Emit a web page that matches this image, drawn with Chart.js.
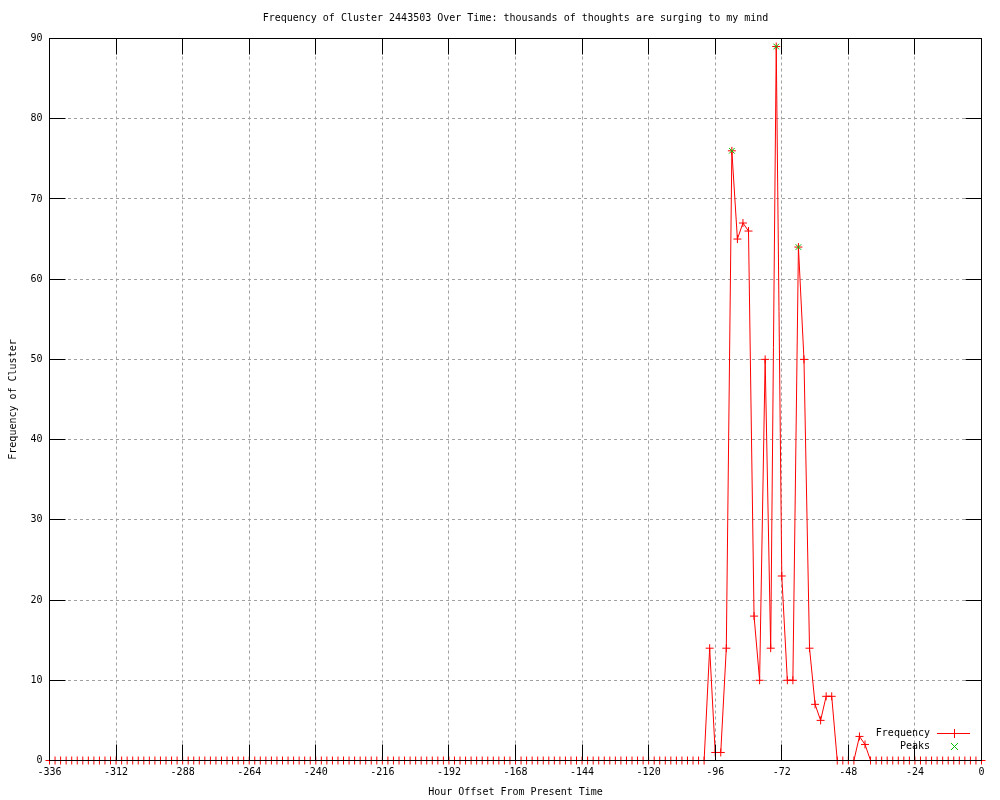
<!DOCTYPE html>
<html>
<head>
<meta charset="utf-8">
<script src="https://cdn.jsdelivr.net/npm/chart.js@4"></script>
<style>
  body { margin: 0; background: #fff; }
  canvas { display: block; }
</style>
</head>
<body>
<canvas id="freqChart" width="1000" height="800"></canvas>
<script>
// hour offsets (every 2 hours) and cluster frequency
const hours = [
  -336, -334, -332, -330, -328, -326, -324, -322, -320, -318, -316, -314,
  -312, -310, -308, -306, -304, -302, -300, -298, -296, -294, -292, -290,
  -288, -286, -284, -282, -280, -278, -276, -274, -272, -270, -268, -266,
  -264, -262, -260, -258, -256, -254, -252, -250, -248, -246, -244, -242,
  -240, -238, -236, -234, -232, -230, -228, -226, -224, -222, -220, -218,
  -216, -214, -212, -210, -208, -206, -204, -202, -200, -198, -196, -194,
  -192, -190, -188, -186, -184, -182, -180, -178, -176, -174, -172, -170,
  -168, -166, -164, -162, -160, -158, -156, -154, -152, -150, -148, -146,
  -144, -142, -140, -138, -136, -134, -132, -130, -128, -126, -124, -122,
  -120, -118, -116, -114, -112, -110, -108, -106, -104, -102, -100, -98,
  -96, -94, -92, -90, -88, -86, -84, -82, -80, -78, -76, -74,
  -72, -70, -68, -66, -64, -62, -60, -58, -56, -54, -52, -50,
  -48, -46, -44, -42, -40, -38, -36, -34, -32, -30, -28, -26,
  -24, -22, -20, -18, -16, -14, -12, -10, -8, -6, -4, -2,
  0
];
const frequency = [
  0, 0, 0, 0, 0, 0, 0, 0, 0, 0, 0, 0,
  0, 0, 0, 0, 0, 0, 0, 0, 0, 0, 0, 0,
  0, 0, 0, 0, 0, 0, 0, 0, 0, 0, 0, 0,
  0, 0, 0, 0, 0, 0, 0, 0, 0, 0, 0, 0,
  0, 0, 0, 0, 0, 0, 0, 0, 0, 0, 0, 0,
  0, 0, 0, 0, 0, 0, 0, 0, 0, 0, 0, 0,
  0, 0, 0, 0, 0, 0, 0, 0, 0, 0, 0, 0,
  0, 0, 0, 0, 0, 0, 0, 0, 0, 0, 0, 0,
  0, 0, 0, 0, 0, 0, 0, 0, 0, 0, 0, 0,
  0, 0, 0, 0, 0, 0, 0, 0, 0, 0, 0, 14,
  1, 1, 14, 76, 65, 67, 66, 18, 10, 50, 14, 89,
  23, 10, 10, 64, 50, 14, 7, 5, 8, 8, 0, 0,
  0, 0, 3, 2, 0, 0, 0, 0, 0, 0, 0, 0,
  0, 0, 0, 0, 0, 0, 0, 0, 0, 0, 0, 0,
  0
];
const peakHours = [-90, -74, -66];
const peakValues = [76, 89, 64];

const xTicks = [-336, -312, -288, -264, -240, -216, -192, -168, -144, -120, -96, -72, -48, -24, 0];
const yTicks = [0, 10, 20, 30, 40, 50, 60, 70, 80, 90];

const FONT = 'DejaVu Sans Mono';
const RED = '#ff0000';
const GREEN = '#00c000';

// gnuplot style frame: border box + inward ticks on all four sides
const frame = {
    id: 'frame',
    afterDraw(chart) {
        const { ctx, chartArea: a, scales } = chart;
        const al = v => Math.round(v - 0.5) + 0.5;
        ctx.save();
        ctx.strokeStyle = '#000';
        ctx.lineWidth = 1;
        ctx.beginPath();
        xTicks.forEach(t => {
            const px = al(scales.x.getPixelForValue(t));
            ctx.moveTo(px, a.bottom); ctx.lineTo(px, a.bottom - 16);
            ctx.moveTo(px, a.top); ctx.lineTo(px, a.top + 16);
        });
        yTicks.forEach(t => {
            const py = al(scales.y.getPixelForValue(t));
            ctx.moveTo(a.left, py); ctx.lineTo(a.left + 16, py);
            ctx.moveTo(a.right, py); ctx.lineTo(a.right - 16, py);
        });
        ctx.stroke();
        ctx.strokeRect(a.left, a.top, a.right - a.left, a.bottom - a.top);
        ctx.restore();
    }
};

// key in the lower right corner, text first then sample
const key = {
    id: 'key',
    afterDraw(chart) {
        const ctx = chart.ctx;
        ctx.save();
        ctx.font = '10px "' + FONT + '"';
        ctx.textAlign = 'right';
        ctx.textBaseline = 'middle';
        ctx.fillStyle = '#000';
        ctx.fillText('Frequency', 930, 733);
        ctx.fillText('Peaks', 930, 746);

        ctx.lineWidth = 1;
        ctx.strokeStyle = RED;
        ctx.beginPath();
        ctx.moveTo(937, 733.5); ctx.lineTo(970, 733.5);
        ctx.moveTo(954.5, 729); ctx.lineTo(954.5, 738);
        ctx.stroke();

        ctx.strokeStyle = GREEN;
        ctx.beginPath();
        ctx.moveTo(951, 743); ctx.lineTo(958, 750);
        ctx.moveTo(958, 743); ctx.lineTo(951, 750);
        ctx.stroke();
        ctx.restore();
    }
};

const chart = new Chart(document.getElementById('freqChart'), {
    type: 'line',
    data: {
        datasets: [
            {
                label: 'Frequency',
                data: hours.map((h, i) => ({ x: h, y: frequency[i] })),
                borderColor: RED,
                borderWidth: 1,
                tension: 0,
                pointStyle: 'cross',
                pointRadius: 4,
                pointBorderWidth: 1,
                pointBorderColor: RED,
                clip: 6,
                order: 1
            },
            {
                label: 'Peaks',
                data: peakHours.map((h, i) => ({ x: h, y: peakValues[i] })),
                showLine: false,
                pointStyle: 'crossRot',
                pointRadius: 4,
                pointBorderWidth: 1,
                pointBorderColor: GREEN,
                clip: 6,
                order: 0
            }
        ]
    },
    options: {
        responsive: false,
        animation: false,
        events: [],
        layout: { padding: { left: 0, right: 18.5, top: 0, bottom: 0 } },
        plugins: {
            legend: { display: false },
            tooltip: { enabled: false },
            title: {
                display: true,
                fullSize: false,   // centre over the plot area like gnuplot
                text: 'Frequency of Cluster 2443503 Over Time: thousands of thoughts are surging to my mind',
                color: '#000',
                font: { family: FONT, size: 10, weight: 'normal', lineHeight: 1.2 },
                padding: { top: 12, bottom: 14.5 }
            }
        },
        scales: {
            x: {
                type: 'linear',
                min: -336,
                max: 0,
                afterFit: s => { s.height = 39.5; },
                afterBuildTicks: s => { s.ticks = xTicks.map(v => ({ value: v })); },
                ticks: {
                    color: '#000',
                    font: { family: FONT, size: 10 },
                    padding: 6,
                    maxRotation: 0,
                    autoSkip: false
                },
                grid: { color: '#a0a0a0', drawTicks: false, borderDash: [3, 3] },
                border: { display: false, dash: [3, 3] },
                title: {
                    display: true,
                    text: 'Hour Offset From Present Time',
                    color: '#000',
                    font: { family: FONT, size: 10, lineHeight: 1.2 },
                    padding: { top: 0, bottom: 2 }
                }
            },
            y: {
                min: 0,
                max: 90,
                afterFit: s => { s.width = 49.5; },
                afterBuildTicks: s => { s.ticks = yTicks.map(v => ({ value: v })); },
                ticks: {
                    color: '#000',
                    font: { family: FONT, size: 10 },
                    padding: 7
                },
                grid: { color: '#a0a0a0', drawTicks: false, borderDash: [3, 3] },
                border: { display: false, dash: [3, 3] },
                title: {
                    display: true,
                    text: 'Frequency of Cluster',
                    color: '#000',
                    font: { family: FONT, size: 10, lineHeight: 1.2 },
                    padding: { top: 7, bottom: 0 }
                }
            }
        }
    },
    plugins: [frame, key]
});
</script>
</body>
</html>
